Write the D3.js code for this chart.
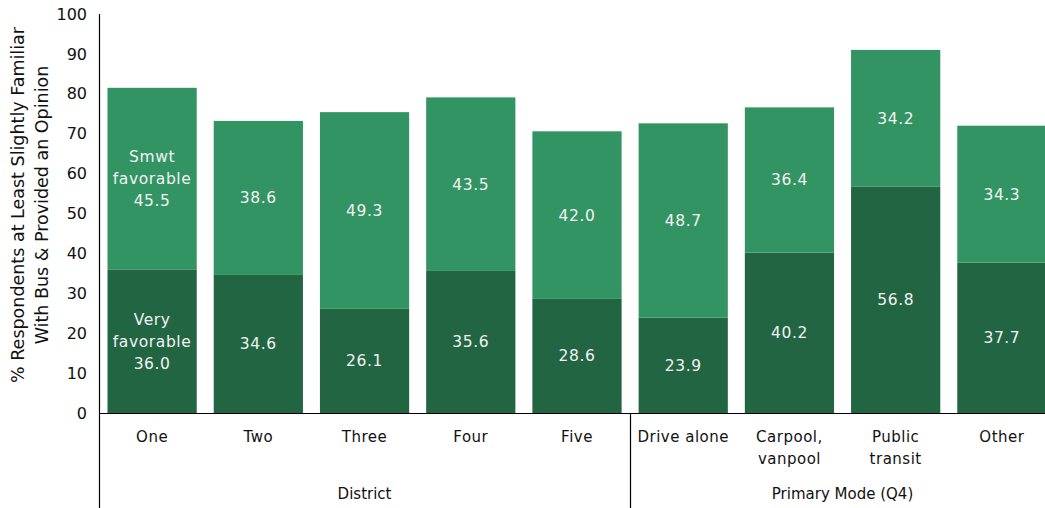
<!DOCTYPE html>
<html>
<head>
<meta charset="utf-8">
<script src="https://cdn.jsdelivr.net/npm/d3@7"></script>
<style>
  html, body { margin: 0; padding: 0; background: #fff; }
  svg { display: block; }
  text { font-family: "DejaVu Sans", Verdana, sans-serif; }
</style>
</head>
<body>
<svg id="chart" width="1045" height="508"></svg>
<script>
// Categories: five districts, then four primary travel modes
const categories = ["One", "Two", "Three", "Four", "Five", "Drive alone", "Carpool, vanpool", "Public transit", "Other"];
const categoryLines = [["One"], ["Two"], ["Three"], ["Four"], ["Five"], ["Drive alone"], ["Carpool,", "vanpool"], ["Public", "transit"], ["Other"]];
const groups = [
  { name: "District", from: 0, to: 5 },
  { name: "Primary Mode (Q4)", from: 5, to: 9 }
];

// Percent of respondents, stacked
const veryFavorable = [36.0, 34.6, 26.1, 35.6, 28.6, 23.9, 40.2, 56.8, 37.7];
const smwtFavorable = [45.5, 38.6, 49.3, 43.5, 42.0, 48.7, 36.4, 34.2, 34.3];

const yTicks = [0, 10, 20, 30, 40, 50, 60, 70, 80, 90, 100];

const svg = d3.select("#chart");
const plotLeft = 99, plotRight = 1055, plotTop = 14, plotBottom = 413;

const x = d3.scaleBand().domain(categories).range([plotLeft, plotRight])
  .paddingInner(0.16).paddingOuter(0.08);
const y = d3.scaleLinear().domain([0, 100]).range([plotBottom, plotTop]);

const colors = { very: "#226542", smwt: "#339463" };
const labelColor = "#f2f2f2";

// Bars
const g = svg.append("g");
categories.forEach((c, i) => {
  const v = veryFavorable[i], s = smwtFavorable[i];
  g.append("rect")
    .attr("x", x(c)).attr("width", x.bandwidth())
    .attr("y", y(v)).attr("height", y(0) - y(v))
    .attr("fill", colors.very);
  g.append("rect")
    .attr("x", x(c)).attr("width", x.bandwidth())
    .attr("y", y(v + s)).attr("height", y(v) - y(v + s))
    .attr("fill", colors.smwt);
});

// Segment value labels (first bar also names the series)
function segLabel(cx, cy, lines) {
  const lh = 22;
  const t = svg.append("text")
    .attr("text-anchor", "middle")
    .attr("font-size", 15.5)
    .attr("letter-spacing", 0.6)
    .attr("fill", labelColor);
  lines.forEach((ln, k) => {
    t.append("tspan")
      .attr("x", cx)
      .attr("y", cy + (k - (lines.length - 1) / 2) * lh)
      .attr("dy", "0.35em")
      .text(ln);
  });
}
categories.forEach((c, i) => {
  const v = veryFavorable[i], s = smwtFavorable[i];
  const cx = x(c) + x.bandwidth() / 2;
  const vLines = i === 0 ? ["Very", "favorable", v.toFixed(1)] : [v.toFixed(1)];
  const sLines = i === 0 ? ["Smwt", "favorable", s.toFixed(1)] : [s.toFixed(1)];
  segLabel(cx, y(v / 2), vLines);
  segLabel(cx, y(v + s / 2), sLines);
});

// Y axis
const yAxis = svg.append("g")
  .attr("transform", `translate(${plotLeft},0)`)
  .call(d3.axisLeft(y).tickValues(yTicks).tickSize(0).tickPadding(12));
yAxis.select(".domain").remove();
yAxis.selectAll("text")
  .attr("font-size", 16)
  .attr("font-family", "DejaVu Sans, sans-serif")
  .attr("fill", "#111");

svg.append("line")
  .attr("x1", plotLeft + 0.5).attr("x2", plotLeft + 0.5)
  .attr("y1", plotTop).attr("y2", 508)
  .attr("stroke", "#000").attr("stroke-width", 1.2);
svg.append("line")
  .attr("x1", plotLeft).attr("x2", 1045)
  .attr("y1", plotBottom + 0.5).attr("y2", plotBottom + 0.5)
  .attr("stroke", "#000").attr("stroke-width", 1.2);

// Y axis title
const yTitle = svg.append("text")
  .attr("transform", "translate(30,205) rotate(-90)")
  .attr("text-anchor", "middle")
  .attr("font-size", 17.5)
  .attr("fill", "#111");
["% Respondents at Least Slightly Familiar", "With Bus & Provided an Opinion"].forEach((ln, k) => {
  yTitle.append("tspan").attr("x", 0).attr("y", (k - 0.5) * 24).attr("dy", "0.35em").text(ln);
});

// Category labels
categories.forEach((c, i) => {
  const cx = x(c) + x.bandwidth() / 2;
  const t = svg.append("text")
    .attr("text-anchor", "middle")
    .attr("font-size", 15)
    .attr("letter-spacing", 0.5)
    .attr("fill", "#111");
  categoryLines[i].forEach((ln, k) => {
    t.append("tspan").attr("x", cx).attr("y", 437 + k * 22).attr("dy", "0.35em").text(ln);
  });
});

// Group labels and separators
const step = x.step();
groups.forEach(gr => {
  const x0 = plotLeft + gr.from * step, x1 = plotLeft + gr.to * step;
  svg.append("text")
    .attr("x", (x0 + x1) / 2).attr("y", 494).attr("dy", "0.35em")
    .attr("text-anchor", "middle")
    .attr("font-size", 15)
    .attr("fill", "#111")
    .text(gr.name);
  if (gr.from > 0) {
    svg.append("line")
      .attr("x1", Math.round(x0) + 0.5).attr("x2", Math.round(x0) + 0.5)
      .attr("y1", plotBottom).attr("y2", 508)
      .attr("stroke", "#000").attr("stroke-width", 1.2);
  }
});
</script>
</body>
</html>
